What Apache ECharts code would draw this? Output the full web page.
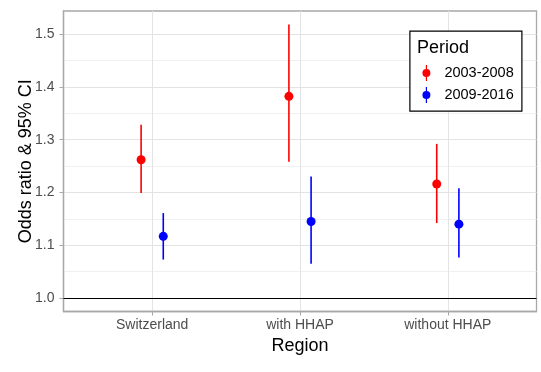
<!DOCTYPE html>
<html>
<head>
<meta charset="utf-8">
<script src="https://cdn.jsdelivr.net/npm/echarts@6/dist/echarts.min.js"></script>
<style>
  html, body { margin: 0; padding: 0; background: #fff; }
  #chart { width: 541px; height: 372px; }
</style>
</head>
<body>
<div id="chart"></div>
<script>
// categories / groups
const regions = ["Switzerland", "with HHAP", "without HHAP"];
const periods = ["2003-2008", "2009-2016"];
const colors = ["#ff0000", "#0000ff"];

// odds ratios and 95% CI
const or2003 = [1.262, 1.382, 1.216];
const lo2003 = [1.199, 1.258, 1.142];
const hi2003 = [1.328, 1.518, 1.292];
const or2009 = [1.117, 1.145, 1.140];
const lo2009 = [1.073, 1.065, 1.077];
const hi2009 = [1.161, 1.230, 1.208];

// tick labels
const yTicks = [1.0, 1.1, 1.2, 1.3, 1.4, 1.5];
const yMinor = [1.05, 1.15, 1.25, 1.35, 1.45];
const xTicks = [0, 1, 2];

const FONT = "Liberation Sans, Arial, sans-serif";
const dodge = 0.075;
const groups = [
    { est: or2003, lo: lo2003, hi: hi2003, off: -dodge },
    { est: or2009, lo: lo2009, hi: hi2009, off: dodge }
];

const legendIcon = "path://M4.4,0 L5.6,0 L5.6,4 L4.4,4 Z M4.4,12 L5.6,12 L5.6,16 L4.4,16 Z M1,8 A4,4 0 1,0 9,8 A4,4 0 1,0 1,8 Z";

const chart = echarts.init(document.getElementById("chart"), null, { renderer: "canvas" });

const series = [
    {
        // background grid lines
        type: "scatter",
        data: [],
        silent: true,
        z: 0,
        markLine: {
            silent: true,
            symbol: "none",
            label: { show: false },
            animation: false,
            z: 0,
            data: [
                ...yMinor.map(v => ({ yAxis: v, lineStyle: { color: "#f0f0f0", width: 1, type: "solid" } })),
                ...yTicks.map(v => ({ yAxis: v, lineStyle: { color: "#e3e3e3", width: 1, type: "solid" } })),
                ...xTicks.map(v => ({ xAxis: v, lineStyle: { color: "#e3e3e3", width: 1, type: "solid" } }))
            ]
        }
    },
    {
        type: "scatter",
        data: [],
        silent: true,
        z: 1,
        markLine: {
            silent: true,
            symbol: "none",
            label: { show: false },
            animation: false,
            z: 1,
            data: [{ yAxis: 1.0, lineStyle: { color: "#000", width: 1.2, type: "solid" } }]
        }
    }
];

groups.forEach((g, k) => {
    series.push({
        name: periods[k],
        type: "custom",
        z: 3,
        data: regions.map((r, i) => [i + g.off, g.lo[i], g.hi[i]]),
        encode: { x: 0, y: [1, 2] },
        renderItem: function (params, api) {
            const p1 = api.coord([api.value(0), api.value(1)]);
            const p2 = api.coord([api.value(0), api.value(2)]);
            return {
                type: "line",
                shape: { x1: p1[0], y1: p1[1], x2: p2[0], y2: p2[1] },
                style: { stroke: colors[k], lineWidth: 1.6 }
            };
        }
    });
    series.push({
        name: periods[k],
        type: "scatter",
        z: 4,
        symbol: "circle",
        symbolSize: 9,
        itemStyle: { color: colors[k], opacity: 1 },
        data: regions.map((r, i) => [i + g.off, g.est[i]])
    });
});

const option = {
    animation: false,
    backgroundColor: "#fff",
    textStyle: { fontFamily: FONT },
    grid: {
        left: 63.5,
        right: 4.5,
        top: 11,
        bottom: 60.5,
        show: true,
        borderColor: "#a8a8a8",
        borderWidth: 1.3,
        backgroundColor: "transparent"
    },
    xAxis: {
        type: "value",
        min: -0.6,
        max: 2.6,
        name: "Region",
        nameLocation: "middle",
        nameGap: 25,
        nameTextStyle: { color: "#000", fontSize: 18, fontFamily: FONT },
        axisLine: { show: true, onZero: false, lineStyle: { color: "#a8a8a8", width: 1.3 } },
        splitLine: { show: false },
        axisTick: { show: true, customValues: xTicks, length: 4, lineStyle: { color: "#a8a8a8", width: 1 } },
        axisLabel: {
            customValues: xTicks,
            margin: 7,
            color: "#4d4d4d",
            fontSize: 14,
            fontFamily: FONT,
            formatter: v => regions[Math.round(v)]
        }
    },
    yAxis: {
        type: "value",
        min: 0.9747,
        max: 1.5435,
        name: "Odds ratio & 95% CI",
        nameLocation: "middle",
        nameGap: 28,
        nameMoveOverlap: false,
        nameRotate: 90,
        nameTextStyle: { color: "#000", fontSize: 18, fontFamily: FONT },
        axisLine: { show: true, onZero: false, lineStyle: { color: "#a8a8a8", width: 1.3 } },
        splitLine: { show: false },
        axisTick: { show: true, customValues: yTicks, length: 4, lineStyle: { color: "#a8a8a8", width: 1 } },
        axisLabel: {
            customValues: yTicks,
            margin: 9,
            color: "#4d4d4d",
            fontSize: 14,
            fontFamily: FONT,
            formatter: v => v.toFixed(1)
        }
    },
    legend: {
        data: periods.map((p, k) => ({ name: p, icon: legendIcon, itemStyle: { color: colors[k] } })),
        orient: "vertical",
        left: 422.4,
        top: 65,
        padding: 0,
        z: 20,
        itemWidth: 26,
        itemHeight: 16,
        itemGap: 6,
        textStyle: { fontSize: 14.5, color: "#000", fontFamily: FONT }
    },
    graphic: [
        {
            type: "rect",
            left: 409.3,
            top: 30.5,
            shape: { width: 112, height: 80 },
            style: { fill: "#fff", stroke: "#000", lineWidth: 1.2 },
            z: 5
        },
        {
            type: "text",
            left: 417,
            top: 39,
            style: { text: "Period", fontSize: 18, fill: "#000", fontFamily: FONT },
            z: 6
        }
    ],
    series: series
};

chart.setOption(option);
</script>
</body>
</html>
